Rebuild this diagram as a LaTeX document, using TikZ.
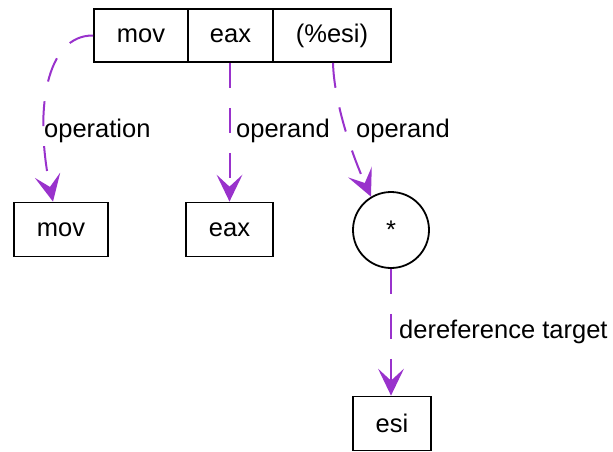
\documentclass[tikz,border=0pt]{standalone}
\usepackage{fontspec}
\setmainfont{Liberation Sans}
\usetikzlibrary{arrows.meta,calc}
\definecolor{edgepurple}{RGB}{153,50,204}
\begin{document}
\begin{tikzpicture}[x=1pt,y=-1pt,
  every node/.style={font=\fontsize{25.5}{30}\selectfont},
  cell/.style={draw=black,line width=1.8pt,minimum height=53pt,inner sep=0pt},
  leaf/.style={draw=black,line width=1.8pt,minimum height=54pt,inner sep=0pt},
  ring/.style={draw=black,line width=1.8pt,circle,minimum size=76pt,inner sep=0pt},
  lbl/.style={inner sep=0pt,anchor=base west},
  conn/.style={draw=edgepurple,line width=2pt,dash pattern=on 25pt off 20pt,
    -{Stealth[length=27pt,width=26pt,inset=12pt,line width=0pt]}}
]
\useasboundingbox (0,0) rectangle (613,451);
\node[cell,minimum width=94pt] (c1) at (141,35.5) {mov};
\node[cell,minimum width=85pt] (c2) at (230.5,35.5) {eax};
\node[cell,minimum width=118pt] (c3) at (332,35.5) {(\%esi)};
\node[leaf,minimum width=94pt] (mov) at (61,229.5) {mov};
\node[leaf,minimum width=87pt] (eax) at (229.5,229.5) {eax};
\node[ring] (star) at (391,230) {*};
\node[leaf,minimum width=78pt] (esi) at (392,423.5) {esi};

\draw[conn] (c1.west) .. controls (46,35) and (34,110) .. ([xshift=-8pt]mov.north);
\draw[conn] ([xshift=-1pt]c2.south) -- (eax.north);
\draw[conn] ([xshift=1pt]c3.south) .. controls (334,100) and (350,150) .. (star.121);
\draw[conn] (star.south) -- ([xshift=-1pt]esi.north);

\node[lbl] (l1) at (44,137) {operation};
\node[lbl] (l2) at (236,137) {operand};
\node[lbl] (l3) at (356,137) {operand};
\node[lbl] (l4) at (399,338) {dereference target};
\end{tikzpicture}
\end{document}
